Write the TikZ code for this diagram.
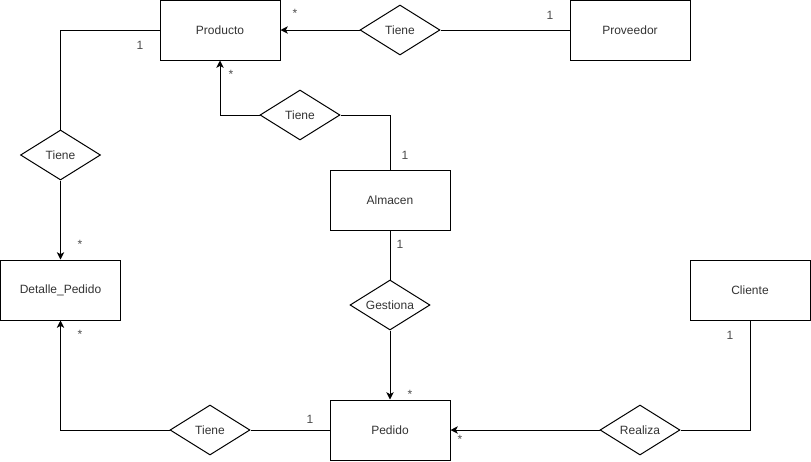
\documentclass[tikz,border=0pt]{standalone}
\usepackage{fontspec}
\setmainfont{Liberation Sans}
\usetikzlibrary{shapes.geometric,arrows.meta}
\begin{document}
\begin{tikzpicture}[x=0.75pt,y=-0.75pt,
  every node/.style={font=\fontsize{9}{11}\selectfont},
  entity/.style={draw,line width=0.75pt,minimum width=90pt,minimum height=45pt,inner sep=0pt,text=black!80},
  relation/.style={draw,diamond,aspect=1.6,line width=0.75pt,minimum width=60pt,minimum height=37.5pt,inner sep=0pt,text=black!80},
  link/.style={line width=0.75pt},
  toarrow/.style={line width=0.75pt,-{Stealth[length=5.5pt,width=5.5pt,inset=1.5pt]}},
  card/.style={text=black!70,inner sep=0pt}]
\useasboundingbox (0,0) rectangle (811,461);

% entities
\node[entity] (producto) at (220,30) {Producto};
\node[entity] (proveedor) at (630,30) {Proveedor};
\node[entity] (almacen) at (390,200) {Almacen};
\node[entity] (detalle) at (60.5,290) {Detalle\_Pedido};
\node[entity] (cliente) at (750,290) {Cliente};
\node[entity] (pedido) at (390,430) {Pedido};

% relationships
\node[relation] (r1) at (400,30) {Tiene};
\node[relation] (r2) at (300,115) {Tiene};
\node[relation] (r3) at (60.5,155) {Tiene};
\node[relation] (r4) at (390,305) {Gestiona};
\node[relation] (r5) at (210,430) {Tiene};
\node[relation] (r6) at (640,430) {Realiza};

% connectors
\draw[link] (proveedor.west) -- (r1.east);
\draw[toarrow] (r1.west) -- (producto.east);

\draw[link] (almacen.north) |- (r2.east);
\draw[toarrow] (r2.west) -| (producto.south);

\draw[link] (producto.west) -| (r3.north);
\draw[toarrow] (r3.south) -- (detalle.north);

\draw[link] (almacen.south) -- (r4.north);
\draw[toarrow] (r4.south) -- (pedido.north);

\draw[link] (pedido.west) -- (r5.east);
\draw[toarrow] (r5.west) -| (detalle.south);

\draw[link] (cliente.south) |- (r6.east);
\draw[toarrow] (r6.west) -- (pedido.east);

% cardinalities
\node[card] (c1) at (295,13) {*};
\node[card] (c2) at (550,15) {1};
\node[card] (c3) at (140,45) {1};
\node[card] (c4) at (231,74) {*};
\node[card] (c5) at (405,155) {1};
\node[card] (c6) at (80,244) {*};
\node[card] (c7) at (400,244) {1};
\node[card] (c8) at (410,394) {*};
\node[card] (c9) at (80,334) {*};
\node[card] (c10) at (310,419) {1};
\node[card] (c11) at (460,439) {*};
\node[card] (c12) at (730,335) {1};
\end{tikzpicture}
\end{document}
